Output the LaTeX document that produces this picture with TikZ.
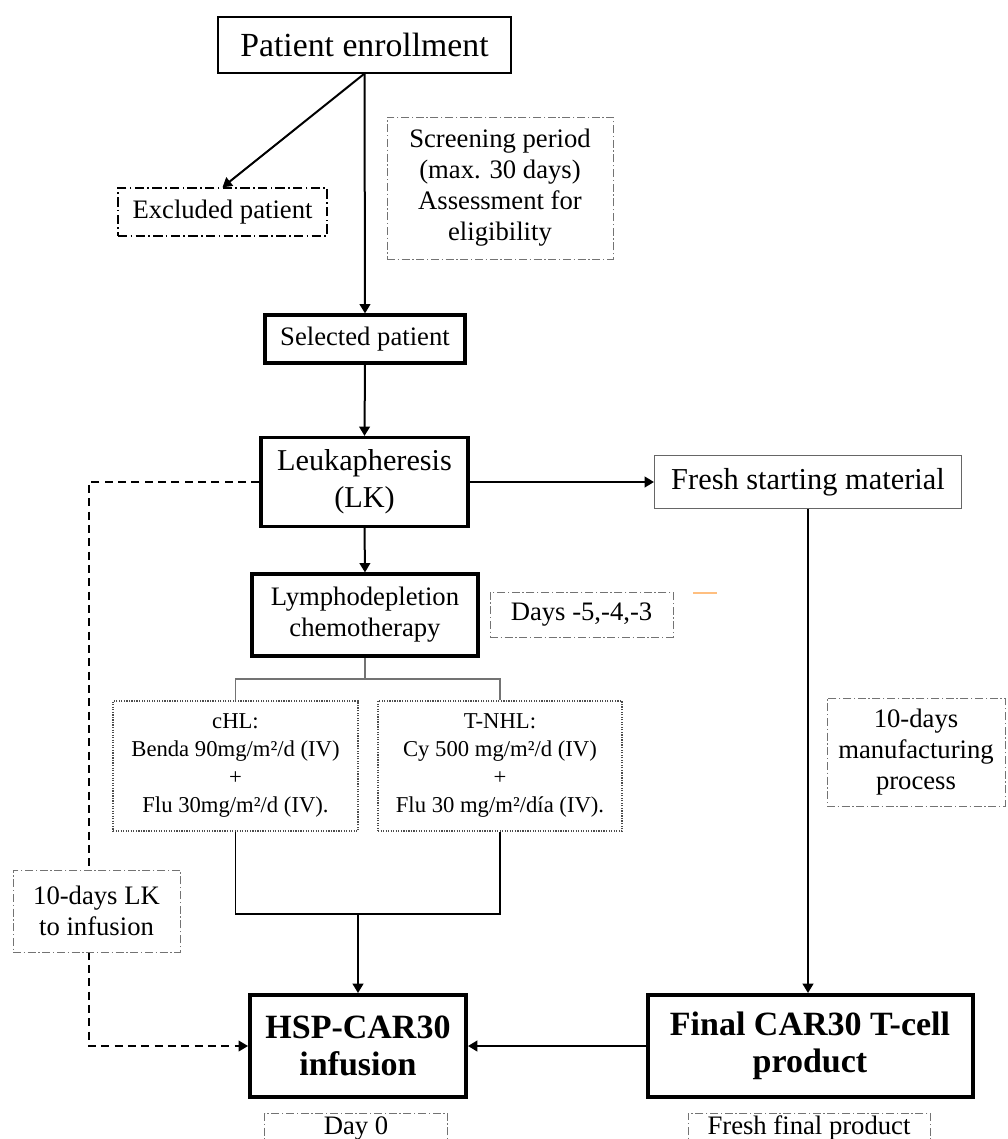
\documentclass[tikz,border=0pt]{standalone}
\usepackage{fontspec}
\setmainfont{Liberation Serif}
\usetikzlibrary{arrows.meta}

\tikzset{
  box/.style={draw, inner sep=0pt, align=center, font=\fontsize{20}{23.25}\selectfont},
  plainbox/.style={box, line width=0.9pt},
  heavybox/.style={box, line width=2.4pt},
  finalbox/.style={box, line width=3pt, font=\fontsize{25.5}{28}\selectfont\bfseries},
  notebox/.style={box, draw=black!55, line width=0.7pt, dash pattern=on 6pt off 2pt on 1pt off 2pt, fill=white},
  dosebox/.style={box, draw=black!70, line width=0.9pt, densely dotted, font=\fontsize{17}{21}\selectfont},
  flow/.style={line width=1.5pt, -{Triangle[length=7pt,width=8pt]}},
}

\begin{document}
\begin{tikzpicture}[x=0.75pt, y=-0.75pt]
\useasboundingbox (0,0) rectangle (1007,1139);
\clip (0,0) rectangle (1007,1139);
%%   boxes
    \node[plainbox, minimum width=219.75pt, minimum height=42pt, font=\fontsize{25.3}{28}\selectfont] (enroll) at (364.5,45) {Patient enrollment};
    \node[box, line width=1pt, dash pattern=on 7pt off 2.5pt on 1.2pt off 2.5pt, minimum width=156.75pt, minimum height=36pt] (excl) at (222.5,212) {Excluded patient};
    \node[notebox, minimum width=169.5pt, minimum height=106.5pt] (screen) at (500,188) {Screening period\\(max. 30 days)\\Assessment for\\eligibility};
    \node[heavybox, minimum width=150pt, minimum height=36pt] (sel) at (365,339) {Selected patient};
    \node[heavybox, minimum width=155.25pt, minimum height=66.75pt, font=\fontsize{22.7}{27.75}\selectfont] (lk) at (364.5,482) {Leukapheresis\\(LK)};
    \node[box, draw=black!60, line width=0.8pt, minimum width=230.25pt, minimum height=39.75pt, font=\fontsize{22.8}{26}\selectfont] (fresh) at (808,482) {Fresh starting material};
    \node[heavybox, minimum width=169.5pt, minimum height=61.5pt] (lym) at (365,615) {Lymphodepletion\\chemotherapy};
    \node[notebox, minimum width=137.25pt, minimum height=33.75pt] (days) at (581.5,614.5) {Days -5,-4,-3};
    \node[dosebox, minimum width=183.75pt, minimum height=97.5pt] (chl) at (235.5,766) {cHL:\\Benda 90mg/m²/d (IV)\\+\\Flu 30mg/m²/d (IV).};
    \node[dosebox, minimum width=183pt, minimum height=97.5pt] (tnhl) at (500,766) {T-NHL:\\Cy 500 mg/m²/d (IV)\\+\\Flu 30 mg/m²/día (IV).};
    \node[notebox, minimum width=133.5pt, minimum height=81pt] (manuf) at (916,752) {10-days\\manufacturing\\process};
    \node[finalbox, minimum width=162pt, minimum height=76.5pt] (hsp) at (358,1046) {HSP-CAR30\\infusion};
    \node[finalbox, minimum width=243.75pt, minimum height=76.5pt] (final) at (810,1046) {Final CAR30 T-cell\\product};
    \node[notebox, minimum width=137.25pt, minimum height=22.5pt] (day0) at (356,1128) {Day 0};
    \node[notebox, minimum width=181.5pt, minimum height=22.5pt] (ffinal) at (809,1128) {Fresh final product};
%%   helper points
    \coordinate (split) at (365,679);
    \coordinate (merge) at (358,914);
    \coordinate (bend) at (89,482);
%%   connectors
    \draw[flow] (enroll.south) -- (excl.north);
    \draw[flow] (enroll.south) -- (sel.north);
    \draw[flow] (sel.south) -- (lk.north);
    \draw[flow] (lk.east) -- (fresh.west);
    \draw[flow] (lk.south) -- (lym.north);
    \draw[black!55, line width=0.8pt] (lym.south) -- (split);
    \draw[black!55, line width=0.8pt] (chl.north) |- (split) -| (tnhl.north);
    \draw[line width=1.3pt] (chl.south) |- (merge) -| (tnhl.south);
    \draw[flow] (merge) -- (hsp.north);
    \draw[flow] (fresh.south) -- (fresh.south |- final.north);
    \draw[flow] (final.west) -- (hsp.east);
    \draw[flow, line width=1.1pt, dash pattern=on 6pt off 4pt] (lk.west) -- (bend) -- (bend |- hsp.west) -- (hsp.west);
%%   note box over the dashed line
    \node[notebox, minimum width=125.25pt, minimum height=61.5pt] (lkinf) at (96.5,911) {10-days LK\\to infusion};
%%   stray mark
    \draw[orange!50, line width=1pt] (693,593) -- (717,593);
\end{tikzpicture}
\end{document}
